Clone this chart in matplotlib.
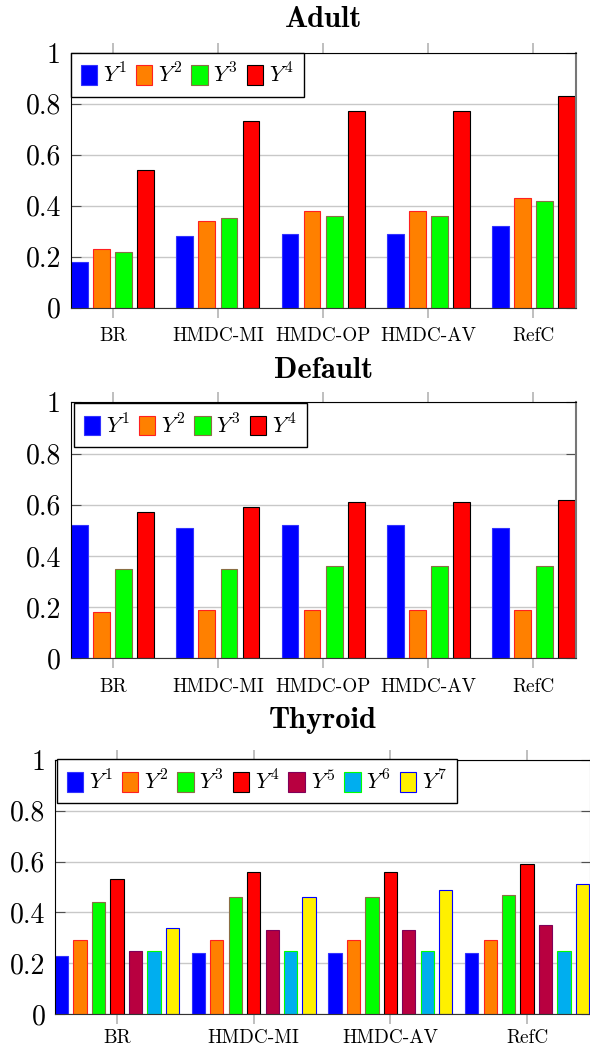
import matplotlib
matplotlib.use("Agg")
import matplotlib.pyplot as plt
import numpy as np

plt.rcParams['font.family'] = ['cmr10', 'DejaVu Serif']
plt.rcParams['mathtext.fontset'] = 'cm'
plt.rcParams['axes.unicode_minus'] = False
plt.rcParams['axes.formatter.use_mathtext'] = True

# ---------------- data ----------------
adult_categories = ["BR", "HMDC-MI", "HMDC-OP", "HMDC-AV", "RefC"]
adult_Y1 = [0.18, 0.28, 0.29, 0.29, 0.32]
adult_Y2 = [0.23, 0.34, 0.38, 0.38, 0.43]
adult_Y3 = [0.22, 0.35, 0.36, 0.36, 0.42]
adult_Y4 = [0.54, 0.73, 0.77, 0.77, 0.83]

default_categories = ["BR", "HMDC-MI", "HMDC-OP", "HMDC-AV", "RefC"]
default_Y1 = [0.52, 0.51, 0.52, 0.52, 0.51]
default_Y2 = [0.18, 0.19, 0.19, 0.19, 0.19]
default_Y3 = [0.35, 0.35, 0.36, 0.36, 0.36]
default_Y4 = [0.57, 0.59, 0.61, 0.61, 0.62]

thyroid_categories = ["BR", "HMDC-MI", "HMDC-AV", "RefC"]
thyroid_Y1 = [0.23, 0.24, 0.24, 0.24]
thyroid_Y2 = [0.29, 0.29, 0.29, 0.29]
thyroid_Y3 = [0.44, 0.46, 0.46, 0.47]
thyroid_Y4 = [0.53, 0.56, 0.56, 0.59]
thyroid_Y5 = [0.25, 0.33, 0.33, 0.35]
thyroid_Y6 = [0.25, 0.25, 0.25, 0.25]
thyroid_Y7 = [0.34, 0.46, 0.49, 0.51]

series_labels = ["$Y^1$", "$Y^2$", "$Y^3$", "$Y^4$", "$Y^5$", "$Y^6$", "$Y^7$"]
y_ticks = [0, 0.2, 0.4, 0.6, 0.8, 1.0]
y_ticklabels = ["0", "0.2", "0.4", "0.6", "0.8", "1"]

fills = ['#0000FF', '#FF8000', '#00FF00', '#FF0000', '#B80040', '#00AEEF', '#FFF000']
edges = ['#3333FF', '#FF2020', '#8A6E45', '#000000', '#80005A', '#00FF00', '#0000FF']

W, H = 590, 1049
fig = plt.figure(figsize=(W / 100, H / 100), dpi=100)


def px_axes(left, top, right, bottom):
    return fig.add_axes([left / W, 1 - bottom / H, (right - left) / W, (bottom - top) / H])


def draw_panel(ax, title, cats, series, step, width, xlim, title_pad, leg_anchor,
               xlabel_pad=6.5):
    x = np.arange(len(cats))
    n = len(series)
    for j, vals in enumerate(series):
        ax.bar(x + (j - (n - 1) / 2) * step, vals, width=width,
               color=fills[j], edgecolor=edges[j], linewidth=0.8,
               label=series_labels[j], zorder=2)
    ax.set_xlim(*xlim)
    ax.set_ylim(0, 1)
    ax.set_xticks(x)
    ax.set_xticklabels(cats, fontsize=13.8)
    ax.set_yticks(y_ticks)
    ax.set_yticklabels(y_ticklabels, fontsize=20)
    ax.set_axisbelow(True)
    ax.yaxis.grid(True, color='#C8C8C8', linewidth=1.0)
    ax.tick_params(axis='x', direction='out', length=7.5, width=1.2,
                   color='#B4B4B4', top=True, bottom=True, labeltop=False,
                   pad=xlabel_pad)
    ax.tick_params(axis='y', direction='in', length=7.5, width=0.8,
                   color='#505050', left=True, right=True, labelright=False, pad=7)
    ax.spines['top'].set_color('black')
    ax.spines['left'].set_color('black')
    ax.spines['bottom'].set_color('#333333')
    ax.spines['right'].set_color('#777777')
    ax.spines['right'].set_linewidth(1.5)
    ax.set_title(title, family='cmb10', fontsize=22, y=1.0, pad=title_pad)
    leg = ax.legend(loc='upper left', bbox_to_anchor=leg_anchor, ncol=n,
                    fontsize=16, handlelength=0.75, handleheight=1.0,
                    handletextpad=0.25, columnspacing=0.4, borderpad=0.45,
                    borderaxespad=0, fancybox=False, framealpha=1,
                    edgecolor='black')
    leg.get_frame().set_linewidth(1.0)
    leg.set_zorder(5)


ax1 = px_axes(70.7, 52.5, 575.5, 307.7)
draw_panel(ax1, "Adult", adult_categories,
           [adult_Y1, adult_Y2, adult_Y3, adult_Y4],
           0.21, 0.16, (-0.4, 4.4), 18.6, (0.0, 1.0))

ax2 = px_axes(70.7, 402.3, 575.5, 658.3)
draw_panel(ax2, "Default", default_categories,
           [default_Y1, default_Y2, default_Y3, default_Y4],
           0.21, 0.16, (-0.4, 4.4), 17.5, (0.006, 0.997))

ax3 = px_axes(55.0, 760.0, 590.5, 1014.0)
draw_panel(ax3, "Thyroid", thyroid_categories,
           [thyroid_Y1, thyroid_Y2, thyroid_Y3, thyroid_Y4,
            thyroid_Y5, thyroid_Y6, thyroid_Y7],
           0.135, 0.097, (-0.4535, 3.464), 23.3, (0.003, 1.003),
           xlabel_pad=3.5)

fig.savefig("out.png", dpi=100)
